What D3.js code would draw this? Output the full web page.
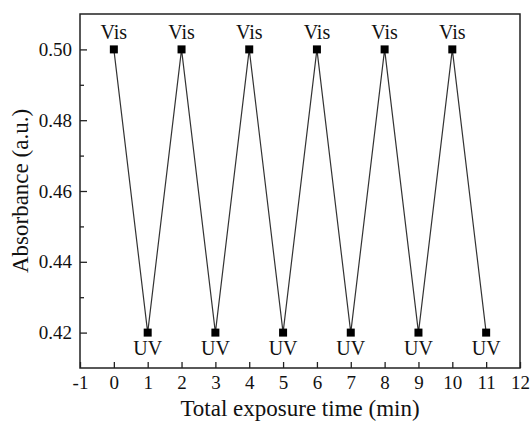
<!DOCTYPE html>
<html>
<head>
<meta charset="utf-8">
<script src="https://cdn.jsdelivr.net/npm/d3@7"></script>
<style>
  body { margin: 0; background: #fff; }
  svg text { font-family: "Liberation Serif", "Times New Roman", serif; fill: #111; }
</style>
</head>
<body>
<div id="chart"></div>
<script>
// measured exposure sequence
const times = [0, 1, 2, 3, 4, 5, 6, 7, 8, 9, 10, 11];
const absorbance = [0.50, 0.42, 0.50, 0.42, 0.50, 0.42, 0.50, 0.42, 0.50, 0.42, 0.50, 0.42];
const lightLabels = ['Vis', 'UV', 'Vis', 'UV', 'Vis', 'UV', 'Vis', 'UV', 'Vis', 'UV', 'Vis', 'UV'];

const xTicks = [-1, 0, 1, 2, 3, 4, 5, 6, 7, 8, 9, 10, 11, 12];
const yTicks = [0.42, 0.44, 0.46, 0.48, 0.50];
const yMinorTicks = [0.43, 0.45, 0.47, 0.49];

const width = 530;
const height = 432;
const margin = { top: 14, right: 10, bottom: 64, left: 80 };
const serif = '"Liberation Serif", "Times New Roman", serif';

const x = d3.scaleLinear()
  .domain([-1, 12])
  .range([margin.left, width - margin.right]);
const y = d3.scaleLinear()
  .domain([0.41, 0.51])
  .range([height - margin.bottom, margin.top]);

const svg = d3.select('#chart')
  .append('svg')
  .attr('width', width)
  .attr('height', height);

// x axis, ticks pointing inward
const xAxis = svg.append('g')
  .attr('transform', `translate(0, ${y.range()[0]})`)
  .call(d3.axisBottom(x)
    .tickValues(xTicks)
    .tickSizeInner(-6)
    .tickSizeOuter(0)
    .tickPadding(8)
    .tickFormat((d) => String(d)));
xAxis.attr('font-family', serif).attr('font-size', 19);
xAxis.select('.domain').remove();
xAxis.selectAll('line').attr('stroke', '#222').attr('stroke-width', 1.3);

// y axis, major ticks
const yAxis = svg.append('g')
  .attr('transform', `translate(${x.range()[0]}, 0)`)
  .call(d3.axisLeft(y)
    .tickValues(yTicks)
    .tickSizeInner(-7)
    .tickSizeOuter(0)
    .tickPadding(8)
    .tickFormat(d3.format('.2f')));
yAxis.attr('font-family', serif).attr('font-size', 19);
yAxis.select('.domain').remove();
yAxis.selectAll('line').attr('stroke', '#222').attr('stroke-width', 1.3);
// labels sit left of the axis line, not of the inward tick
yAxis.selectAll('text').attr('x', -8);

// y minor ticks
const yMinor = svg.append('g')
  .attr('transform', `translate(${x.range()[0]}, 0)`)
  .call(d3.axisLeft(y)
    .tickValues(yMinorTicks)
    .tickSizeInner(-4)
    .tickSizeOuter(0)
    .tickFormat(''));
yMinor.select('.domain').remove();
yMinor.selectAll('line').attr('stroke', '#222').attr('stroke-width', 1.3);

// frame
svg.append('rect')
  .attr('x', x.range()[0])
  .attr('y', y.range()[1])
  .attr('width', x.range()[1] - x.range()[0])
  .attr('height', y.range()[0] - y.range()[1])
  .attr('fill', 'none')
  .attr('stroke', '#222')
  .attr('stroke-width', 1.5);

const points = times.map((t, i) => ({ t, a: absorbance[i], label: lightLabels[i] }));

// connecting line
svg.append('path')
  .datum(points)
  .attr('fill', 'none')
  .attr('stroke', '#333')
  .attr('stroke-width', 1.2)
  .attr('d', d3.line()
    .x((d) => x(d.t))
    .y((d) => y(d.a)));

// square markers
const markerSize = 8;
svg.selectAll('.marker')
  .data(points)
  .enter()
  .append('rect')
  .attr('class', 'marker')
  .attr('x', (d) => x(d.t) - markerSize / 2)
  .attr('y', (d) => y(d.a) - markerSize / 2)
  .attr('width', markerSize)
  .attr('height', markerSize)
  .attr('fill', '#000');

// Vis / UV annotations
svg.selectAll('.light-label')
  .data(points)
  .enter()
  .append('text')
  .attr('class', 'light-label')
  .attr('x', (d) => x(d.t))
  .attr('y', (d) => y(d.a) + (d.label === 'Vis' ? -10 : 22))
  .attr('text-anchor', 'middle')
  .style('font-size', '20px')
  .text((d) => d.label);

// axis titles
svg.append('text')
  .attr('x', (x.range()[0] + x.range()[1]) / 2)
  .attr('y', 416)
  .attr('text-anchor', 'middle')
  .style('font-size', '23px')
  .text('Total exposure time (min)');

svg.append('text')
  .attr('transform', `translate(28, ${(y.range()[0] + y.range()[1]) / 2}) rotate(-90)`)
  .attr('text-anchor', 'middle')
  .style('font-size', '23px')
  .text('Absorbance (a.u.)');
</script>
</body>
</html>
